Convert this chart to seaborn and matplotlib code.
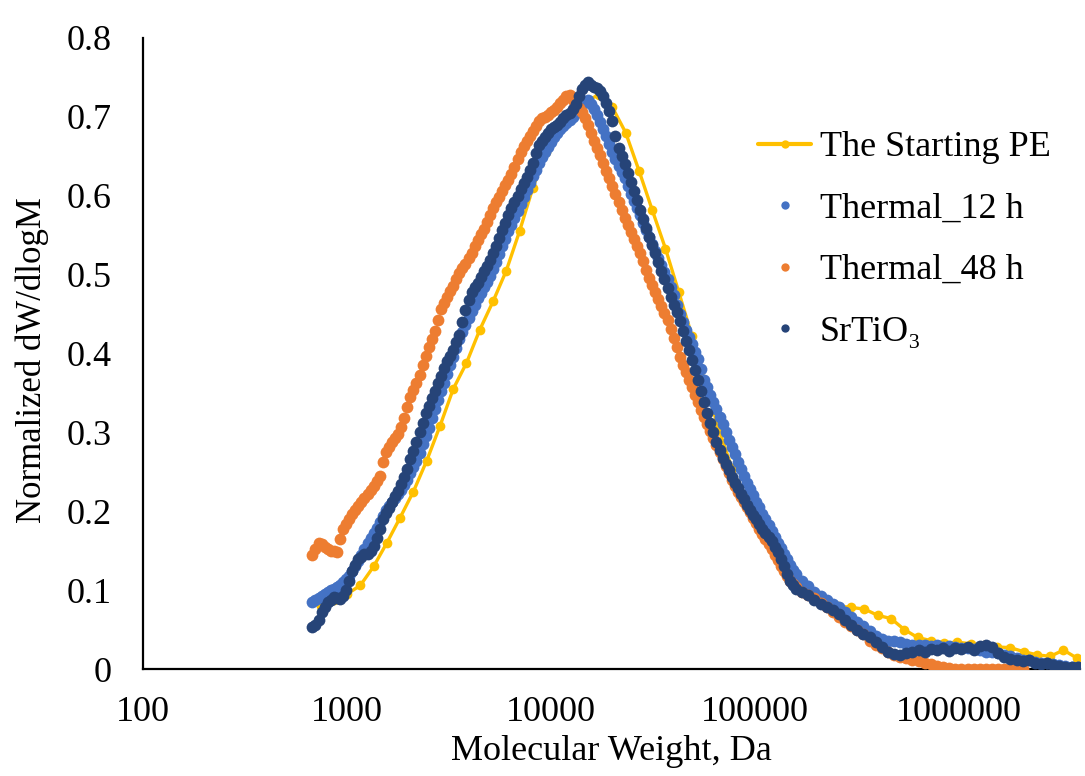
import numpy as np
import pandas as pd
import matplotlib
matplotlib.use("Agg")
import matplotlib.pyplot as plt
import seaborn as sns
from matplotlib.lines import Line2D

# ---------------- data ----------------
series_names = ["The Starting PE", "Thermal_12 h", "Thermal_48 h", "SrTiO\u2083"]

x_ticks = [100, 1000, 10000, 100000, 1000000]
x_tick_labels = ["100", "1000", "10000", "100000", "1000000"]
y_ticks = [0, 0.1, 0.2, 0.3, 0.4, 0.5, 0.6, 0.7, 0.8]
y_tick_labels = ["0", "0.1", "0.2", "0.3", "0.4", "0.5", "0.6", "0.7", "0.8"]

# log10(M) sampling of the dense GPC traces
log_m_dense = [2.830, 2.845, 2.860, 2.875, 2.890, 2.905, 2.920, 2.935, 2.950, 2.965,
               2.980, 2.995, 3.010, 3.025, 3.040, 3.055, 3.070, 3.085, 3.100, 3.115,
               3.130, 3.145, 3.160, 3.175, 3.190, 3.205, 3.220, 3.235, 3.250, 3.265,
               3.280, 3.295, 3.310, 3.325, 3.340, 3.355, 3.370, 3.385, 3.400, 3.415,
               3.430, 3.445, 3.460, 3.475, 3.490, 3.505, 3.520, 3.535, 3.550, 3.565,
               3.580, 3.595, 3.610, 3.625, 3.640, 3.655, 3.670, 3.685, 3.700, 3.715,
               3.730, 3.745, 3.760, 3.775, 3.790, 3.805, 3.820, 3.835, 3.850, 3.865,
               3.880, 3.895, 3.910, 3.925, 3.940, 3.955, 3.970, 3.985, 4.000, 4.015,
               4.030, 4.045, 4.060, 4.075, 4.090, 4.105, 4.120, 4.135, 4.150, 4.165,
               4.180, 4.195, 4.210, 4.225, 4.240, 4.255, 4.270, 4.285, 4.300, 4.315,
               4.330, 4.345, 4.360, 4.375, 4.390, 4.405, 4.420, 4.435, 4.450, 4.465,
               4.480, 4.495, 4.510, 4.525, 4.540, 4.555, 4.570, 4.585, 4.600, 4.615,
               4.630, 4.645, 4.660, 4.675, 4.690, 4.705, 4.720, 4.735, 4.750, 4.765,
               4.780, 4.795, 4.810, 4.825, 4.840, 4.855, 4.870, 4.885, 4.900, 4.915,
               4.930, 4.945, 4.960, 4.975, 4.990, 5.005, 5.020, 5.035, 5.050, 5.065,
               5.080, 5.095, 5.110, 5.125, 5.140, 5.155, 5.170, 5.185, 5.200,
               5.23, 5.26, 5.29, 5.32, 5.35, 5.38, 5.41, 5.44, 5.47, 5.50,
               5.53, 5.56, 5.59, 5.62, 5.65, 5.68, 5.71, 5.74, 5.77, 5.80,
               5.83, 5.86, 5.89, 5.92, 5.95, 5.98, 6.01, 6.04, 6.07, 6.10,
               6.13, 6.16, 6.19, 6.22, 6.25, 6.28, 6.31, 6.34, 6.37, 6.40,
               6.43, 6.46, 6.49, 6.52, 6.55, 6.58]

thermal_12h = [0.085, 0.088, 0.090, 0.093, 0.095, 0.098, 0.100, 0.102, 0.104, 0.107,
               0.110, 0.114, 0.118, 0.124, 0.130, 0.137, 0.144, 0.152, 0.160, 0.166,
               0.172, 0.179, 0.186, 0.194, 0.202, 0.207, 0.212, 0.217, 0.222, 0.227,
               0.233, 0.240, 0.248, 0.256, 0.264, 0.274, 0.285, 0.296, 0.306, 0.318,
               0.330, 0.341, 0.352, 0.363, 0.374, 0.385, 0.396, 0.407, 0.418, 0.427,
               0.436, 0.445, 0.454, 0.462, 0.470, 0.477, 0.484, 0.491, 0.498, 0.507,
               0.516, 0.526, 0.536, 0.545, 0.555, 0.563, 0.572, 0.581, 0.590, 0.598,
               0.607, 0.616, 0.625, 0.633, 0.642, 0.649, 0.656, 0.662, 0.668, 0.674,
               0.680, 0.684, 0.688, 0.692, 0.696, 0.700, 0.705, 0.710, 0.716, 0.719,
               0.722, 0.716, 0.710, 0.702, 0.694, 0.685, 0.676, 0.666, 0.656, 0.647,
               0.638, 0.630, 0.622, 0.612, 0.602, 0.593, 0.584, 0.575, 0.566, 0.557,
               0.548, 0.539, 0.530, 0.521, 0.512, 0.503, 0.494, 0.484, 0.474, 0.462,
               0.450, 0.440, 0.430, 0.421, 0.412, 0.402, 0.393, 0.380, 0.366, 0.357,
               0.348, 0.339, 0.330, 0.320, 0.310, 0.300, 0.290, 0.281, 0.272, 0.263,
               0.254, 0.245, 0.236, 0.228, 0.220, 0.212, 0.205, 0.197, 0.190, 0.182,
               0.175, 0.167, 0.160, 0.153, 0.146, 0.139, 0.132, 0.126, 0.120,
               0.112, 0.105, 0.098, 0.092, 0.087, 0.083, 0.078, 0.072, 0.066, 0.060,
               0.054, 0.048, 0.042, 0.038, 0.036, 0.035, 0.034, 0.032, 0.031, 0.030,
               0.030, 0.029, 0.030, 0.028, 0.029, 0.028, 0.027, 0.026, 0.025, 0.024,
               0.022, 0.021, 0.020, 0.018, 0.016, 0.014, 0.012, 0.011, 0.009, 0.008,
               0.007, 0.006, 0.005, 0.004, 0.003, 0.003]

thermal_48h = [0.145, 0.152, 0.160, 0.158, 0.155, 0.152, 0.150, 0.149, 0.148, 0.165,
               0.178, 0.184, 0.190, 0.196, 0.202, 0.207, 0.212, 0.217, 0.222, 0.227,
               0.232, 0.238, 0.245, 0.262, 0.275, 0.282, 0.288, 0.293, 0.298, 0.307,
               0.318, 0.332, 0.345, 0.354, 0.362, 0.373, 0.385, 0.397, 0.408, 0.418,
               0.428, 0.442, 0.456, 0.464, 0.472, 0.479, 0.486, 0.494, 0.502, 0.508,
               0.514, 0.521, 0.528, 0.536, 0.544, 0.551, 0.558, 0.567, 0.575, 0.584,
               0.592, 0.599, 0.606, 0.613, 0.620, 0.628, 0.636, 0.646, 0.655, 0.663,
               0.670, 0.676, 0.682, 0.689, 0.695, 0.698, 0.700, 0.703, 0.706, 0.709,
               0.712, 0.717, 0.722, 0.726, 0.728, 0.722, 0.715, 0.711, 0.706, 0.698,
               0.690, 0.680, 0.670, 0.661, 0.652, 0.642, 0.632, 0.622, 0.612, 0.602,
               0.592, 0.582, 0.572, 0.563, 0.554, 0.545, 0.536, 0.527, 0.517, 0.506,
               0.496, 0.487, 0.478, 0.469, 0.460, 0.451, 0.442, 0.431, 0.420, 0.408,
               0.396, 0.386, 0.376, 0.367, 0.358, 0.348, 0.338, 0.329, 0.320, 0.311,
               0.302, 0.293, 0.284, 0.275, 0.266, 0.257, 0.248, 0.240, 0.232, 0.225,
               0.218, 0.212, 0.206, 0.199, 0.192, 0.185, 0.178, 0.171, 0.165, 0.158,
               0.152, 0.145, 0.138, 0.131, 0.124, 0.118, 0.112, 0.108, 0.104,
               0.098, 0.094, 0.090, 0.084, 0.079, 0.072, 0.066, 0.060, 0.055, 0.050,
               0.044, 0.036, 0.030, 0.026, 0.022, 0.018, 0.015, 0.014, 0.012, 0.010,
               0.008, 0.006, 0.004, 0.002, 0.001, 0.000, 0.000, 0.000, 0.000, 0.000,
               0.000, 0.000, 0.000, 0.000, 0.000, 0.000, 0.000]

srtio3 = [0.053, 0.056, 0.062, 0.072, 0.078, 0.085, 0.088, 0.091, 0.090, 0.089,
          0.092, 0.100, 0.112, 0.124, 0.132, 0.139, 0.142, 0.146, 0.146, 0.150,
          0.156, 0.166, 0.178, 0.190, 0.198, 0.204, 0.212, 0.219, 0.226, 0.234,
          0.243, 0.254, 0.266, 0.277, 0.288, 0.300, 0.312, 0.324, 0.334, 0.344,
          0.352, 0.362, 0.372, 0.382, 0.390, 0.397, 0.405, 0.414, 0.424, 0.440,
          0.455, 0.468, 0.478, 0.484, 0.490, 0.497, 0.504, 0.511, 0.518, 0.527,
          0.536, 0.546, 0.556, 0.566, 0.576, 0.584, 0.592, 0.600, 0.608, 0.616,
          0.624, 0.633, 0.642, 0.654, 0.664, 0.670, 0.675, 0.680, 0.684, 0.687,
          0.690, 0.694, 0.698, 0.702, 0.705, 0.710, 0.716, 0.726, 0.735, 0.741,
          0.744, 0.741, 0.738, 0.736, 0.733, 0.727, 0.718, 0.708, 0.695, 0.676,
          0.660, 0.650, 0.640, 0.629, 0.618, 0.606, 0.594, 0.582, 0.570, 0.559,
          0.548, 0.538, 0.528, 0.516, 0.505, 0.494, 0.483, 0.472, 0.462, 0.452,
          0.441, 0.428, 0.416, 0.404, 0.392, 0.379, 0.366, 0.352, 0.338, 0.325,
          0.312, 0.300, 0.288, 0.278, 0.268, 0.260, 0.252, 0.244, 0.236, 0.229,
          0.222, 0.215, 0.208, 0.201, 0.195, 0.190, 0.184, 0.178, 0.172, 0.167,
          0.162, 0.155, 0.148, 0.139, 0.130, 0.121, 0.112, 0.106, 0.102,
          0.098, 0.094, 0.088, 0.082, 0.078, 0.075, 0.070, 0.062, 0.056, 0.050,
          0.045, 0.040, 0.034, 0.028, 0.022, 0.019, 0.018, 0.020, 0.022, 0.024,
          0.022, 0.025, 0.024, 0.026, 0.023, 0.027, 0.025, 0.028, 0.024, 0.029,
          0.030, 0.028, 0.020, 0.015, 0.013, 0.011, 0.010, 0.012, 0.008, 0.006,
          0.007, 0.005, 0.004, 0.003, 0.003, 0.002]

log_m_start = [2.870, 2.935, 3.000, 3.065, 3.130, 3.195, 3.260, 3.325, 3.390, 3.455,
               3.520, 3.585, 3.650, 3.715, 3.780, 3.845, 3.910, 3.975, 4.040, 4.105,
               4.170, 4.235, 4.300, 4.365, 4.430, 4.495, 4.560, 4.625, 4.690, 4.755,
               4.820, 4.885, 4.950, 5.015, 5.080, 5.145, 5.210, 5.275, 5.340, 5.405,
               5.470, 5.535, 5.600, 5.665, 5.730, 5.795, 5.860, 5.925, 5.990, 6.055,
               6.120, 6.185, 6.250, 6.315, 6.380, 6.445, 6.510, 6.575]

starting_pe = [0.080, 0.088, 0.095, 0.106, 0.130, 0.160, 0.192, 0.225, 0.264, 0.308,
               0.355, 0.388, 0.430, 0.466, 0.505, 0.555, 0.610, 0.655, 0.685, 0.700,
               0.720, 0.728, 0.712, 0.680, 0.632, 0.582, 0.533, 0.478, 0.422, 0.362,
               0.305, 0.255, 0.218, 0.185, 0.158, 0.128, 0.105, 0.095, 0.085, 0.080,
               0.078, 0.076, 0.068, 0.064, 0.050, 0.040, 0.036, 0.033, 0.034, 0.032,
               0.030, 0.028, 0.027, 0.022, 0.018, 0.016, 0.024, 0.014]

colors = {"The Starting PE": "#FFC000", "Thermal_12 h": "#4472C4",
          "Thermal_48 h": "#ED7D31", "SrTiO\u2083": "#264478"}

# ---------------- style ----------------
sns.set_theme(style="white")
plt.rcParams["font.family"] = ["Liberation Serif", "DejaVu Serif"]

FS = 26

fig = plt.figure(figsize=(10.85, 7.76), dpi=100)
ax = fig.add_axes([143 / 1085, 1 - 669 / 776, (1080 - 143) / 1085, (669 - 38) / 776])

df_start = pd.DataFrame({"M": 10 ** np.array(log_m_start), "y": starting_pe})
df_12 = pd.DataFrame({"M": 10 ** np.array(log_m_dense), "y": thermal_12h})
df_48 = pd.DataFrame({"M": 10 ** np.array(log_m_dense[:len(thermal_48h)]), "y": thermal_48h})
df_sr = pd.DataFrame({"M": 10 ** np.array(log_m_dense), "y": srtio3})

sns.lineplot(data=df_start, x="M", y="y", ax=ax, color=colors[series_names[0]],
             linewidth=2.4, marker="o", markersize=7, markeredgewidth=0,
             sort=False, zorder=2)
dot_s = 72
sns.scatterplot(data=df_12, x="M", y="y", ax=ax, color=colors[series_names[1]],
                s=dot_s, linewidth=0, zorder=3)
sns.scatterplot(data=df_48, x="M", y="y", ax=ax, color=colors[series_names[2]],
                s=dot_s, linewidth=0, zorder=4)
sns.scatterplot(data=df_sr, x="M", y="y", ax=ax, color=colors[series_names[3]],
                s=dot_s, linewidth=0, zorder=5)

ax.set_xscale("log")
ax.set_xlim(100, 3.9e6)
ax.set_ylim(0, 0.8)
ax.set_xticks(x_ticks)
ax.set_xticklabels(x_tick_labels)
ax.set_yticks(y_ticks)
ax.set_yticklabels(y_tick_labels)
ax.xaxis.set_minor_locator(matplotlib.ticker.NullLocator())

for side in ["top", "right"]:
    ax.spines[side].set_visible(False)
for side in ["left", "bottom"]:
    ax.spines[side].set_color("black")
    ax.spines[side].set_linewidth(1.6)

ax.tick_params(axis="both", which="major", direction="inout", length=11, width=1.6,
               color="black", labelsize=FS, labelcolor="black")
ax.tick_params(axis="y", pad=17)
ax.tick_params(axis="x", pad=14)
ax.grid(False)

ax.set_xlabel("Molecular Weight, Da", fontsize=FS, color="black", labelpad=4)
ax.set_ylabel("Normalized dW/dlogM", fontsize=25, color="black")
ax.yaxis.set_label_coords(-0.100, 0.49)

handles = [
    Line2D([], [], color=colors[series_names[0]], linewidth=3, marker="o",
           markersize=6, markeredgewidth=0),
    Line2D([], [], color=colors[series_names[1]], linestyle="none", marker="o",
           markersize=6, markeredgewidth=0),
    Line2D([], [], color=colors[series_names[2]], linestyle="none", marker="o",
           markersize=6, markeredgewidth=0),
    Line2D([], [], color=colors[series_names[3]], linestyle="none", marker="o",
           markersize=6, markeredgewidth=0),
]
leg = ax.legend(handles, series_names, loc="upper left",
                bbox_to_anchor=(758 / 1085, 1 - 131 / 776), bbox_transform=fig.transFigure,
                frameon=False, fontsize=FS, handlelength=1.47, handletextpad=0.25,
                labelspacing=0.78, borderpad=0, borderaxespad=0)
for t in leg.get_texts():
    t.set_color("black")

fig.savefig("out.png", dpi=100, facecolor="white")
